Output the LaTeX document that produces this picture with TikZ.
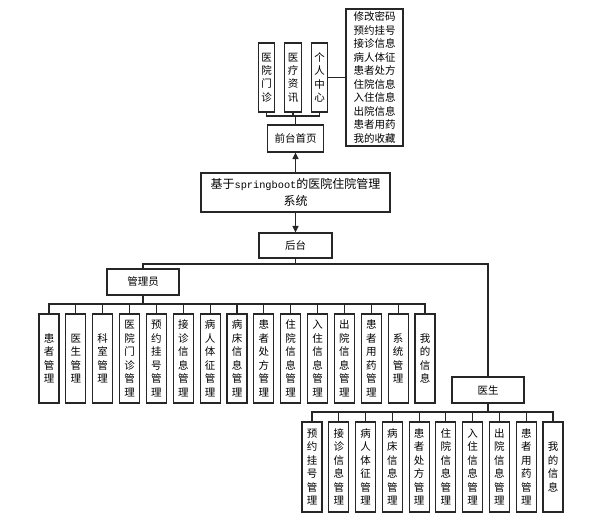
\documentclass[tikz,border=0pt]{standalone}
\usepackage{fontspec}
\newfontfamily\cjk{Noto Sans CJK SC}
\newfontfamily\latinmono{Liberation Mono}
\usetikzlibrary{arrows.meta}
\begin{document}
\begin{tikzpicture}[x=1pt,y=-1pt,
  box/.style={draw=black!85,line width=1.1pt,fill=white,inner sep=0pt,align=center,
    font=\cjk\fontsize{10.5}{13.5}\selectfont},
  vbox/.style={box,minimum width=20,minimum height=89},
  tbox/.style={box,minimum width=16.5,minimum height=69,font=\cjk\fontsize{10.5}{13.3}\selectfont},
  link/.style={draw=black!85,line width=1.1pt},
  arr/.style={link,-{Triangle[length=6.5pt,width=6pt]}}]
\useasboundingbox (0,0) rectangle (601,520);

% front-end branch
\node[tbox] (t1) at (266.5,77.5) {医\\院\\门\\诊};
\node[tbox] (t2) at (293,77.5) {医\\疗\\资\\讯};
\node[tbox] (t3) at (319.5,77.5) {个\\人\\中\\心};
\node[box,minimum width=57,minimum height=137] (ucenter) at (374.5,77.5)
  {修改密码\\预约挂号\\接诊信息\\病人体征\\患者处方\\住院信息\\入住信息\\出院信息\\患者用药\\我的收藏};
\node[box,minimum width=56,minimum height=27] (front) at (295.5,138.5) {前台首页};
\coordinate (bus0) at (295.5,116);
\draw[link] (front.north) -- (bus0);
\foreach \i in {1,2,3} \draw[link] (bus0) -| (t\i.south);
\draw[link] (t3.east) -- (ucenter.west);

% system root
\node[box,minimum width=189,minimum height=39,font=\cjk\fontsize{12}{17}\selectfont] (root) at (295.5,192.5)
  {基于{\latinmono\fontsize{10.3}{17}\selectfont springboot}的医院住院管理\\系统};
\draw[arr] (root.north) -- (front.south);

% back-end branch
\node[box,minimum width=73,minimum height=25] (back) at (295.5,245.5) {后台};
\draw[arr] (root.south) -- (back.north);
\coordinate (bus1) at (295.5,264);
\draw[link] (back.south) -- (bus1);

\node[box,minimum width=72,minimum height=26] (admin) at (143,282) {管理员};
\node[box,minimum width=72,minimum height=26] (doctor) at (488,390) {医生};
\draw[link] (bus1) -| (admin.north);
\draw[link] (bus1) -| (doctor.north);

% administrator modules
\coordinate (bus2) at (143,304);
\draw[link] (admin.south) -- (bus2);
\foreach \t [count=\i] in {{患\\者\\管\\理},{医\\生\\管\\理},{科\\室\\管\\理},
  {医\\院\\门\\诊\\管\\理},{预\\约\\挂\\号\\管\\理},{接\\诊\\信\\息\\管\\理},
  {病\\人\\体\\征\\管\\理},{病\\床\\信\\息\\管\\理},{患\\者\\处\\方\\管\\理},
  {住\\院\\信\\息\\管\\理},{入\\住\\信\\息\\管\\理},{出\\院\\信\\息\\管\\理},
  {患\\者\\用\\药\\管\\理},{系\\统\\管\\理},{我\\的\\信\\息}} {
  \node[vbox] (a\i) at ({49+(\i-1)*26.857},358.5) {\t};
  \draw[link] (bus2) -| (a\i.north);
}

% doctor modules
\coordinate (bus3) at (488,412);
\draw[link] (doctor.south) -- (bus3);
\foreach \t [count=\i] in {{预\\约\\挂\\号\\管\\理},{接\\诊\\信\\息\\管\\理},
  {病\\人\\体\\征\\管\\理},{病\\床\\信\\息\\管\\理},{患\\者\\处\\方\\管\\理},
  {住\\院\\信\\息\\管\\理},{入\\住\\信\\息\\管\\理},{出\\院\\信\\息\\管\\理},
  {患\\者\\用\\药\\管\\理},{我\\的\\信\\息}} {
  \node[vbox,minimum height=90] (d\i) at ({312+(\i-1)*26.78},467) {\t};
  \draw[link] (bus3) -| (d\i.north);
}
\end{tikzpicture}
\end{document}
